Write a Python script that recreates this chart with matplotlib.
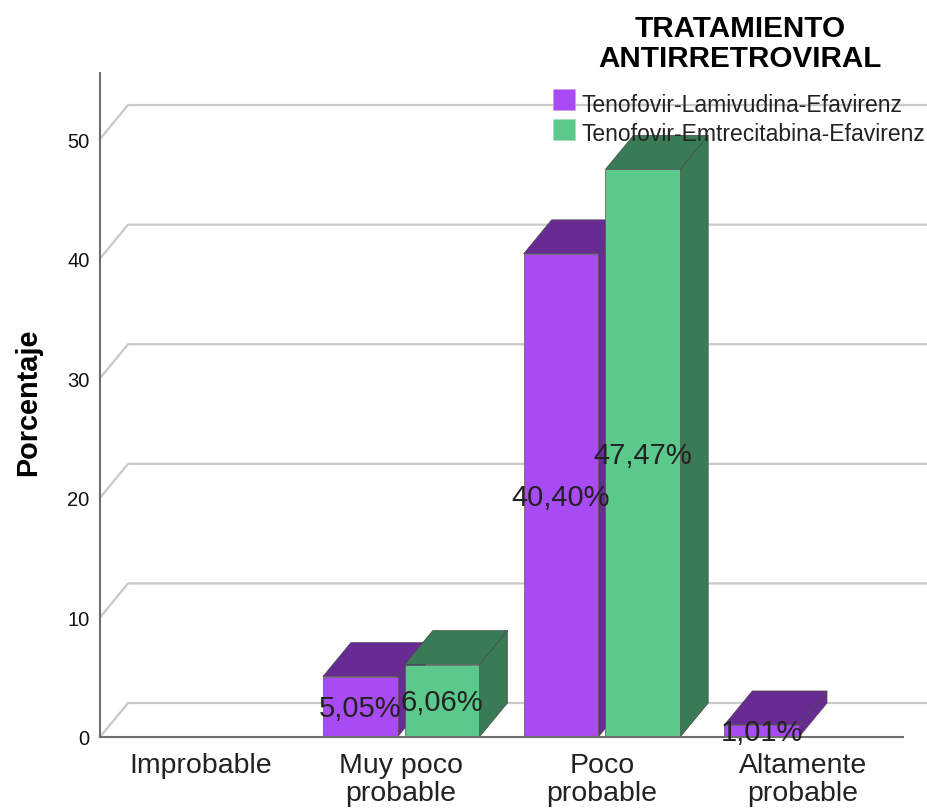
import numpy as np
import matplotlib
matplotlib.use('Agg')
import matplotlib.pyplot as plt
from matplotlib.patches import Rectangle

plt.rcParams['font.family'] = ['Liberation Sans', 'DejaVu Sans']

categorias = ['Improbable', 'Muy poco\nprobable', 'Poco\nprobable', 'Altamente\nprobable']
lamivudina = [0, 5.05, 40.40, 1.01]
emtricitabina = [0, 6.06, 47.47, 0]
etiquetas_lam = ['', '5,05%', '40,40%', '1,01%']
etiquetas_emt = ['', '6,06%', '47,47%', '']
nombres = ['Tenofovir-Lamivudina-Efavirenz', 'Tenofovir-Emtrecitabina-Efavirenz']
y_ticks = [0, 10, 20, 30, 40, 50]

# profundidad del efecto 3D, en unidades de los ejes
DX = 0.1395
DY = 2.84
ANCHO = 0.372
DESP = 0.204


def barra_3d(ax, x, valor, claro, oscuro):
    x0, x1 = x - ANCHO / 2, x + ANCHO / 2
    ax.fill([x1, x1 + DX, x1 + DX, x1], [0, DY, valor + DY, valor],
            fc=oscuro, ec='#4a4a4a', lw=0.5, zorder=3, clip_on=False)
    ax.fill([x0, x0 + DX, x1 + DX, x1], [valor, valor + DY, valor + DY, valor],
            fc=oscuro, ec='#4a4a4a', lw=0.5, zorder=3, clip_on=False)
    ax.bar(x, valor, ANCHO, color=claro, edgecolor='#555555', linewidth=0.5, zorder=3)


def etiqueta(ax, x, valor, texto):
    ax.annotate(texto, (x, valor / 2), xytext=(0, -1), textcoords='offset points',
                ha='center', va='center', fontsize=21, color='#222222', zorder=5,
                annotation_clip=False)


fig = plt.figure(figsize=(9.27, 8.12), dpi=100)
ax = fig.add_axes([100 / 927, 74 / 812, 803 / 927, 664 / 812])
ax.set_xlim(-0.5, 3.5)
ax.set_ylim(0, 55.52)

# rejilla del fondo con su tramo inclinado
for v in y_ticks:
    ax.plot([-0.5, -0.5 + DX, 3.65], [v, v + DY, v + DY], color='#c9c9c9', lw=1.6,
            zorder=1, clip_on=False)

morado, morado_osc = '#a94bf5', '#682a93'
verde, verde_osc = '#5cc98c', '#397b55'
pos = np.arange(len(categorias))

for i in pos:
    if lamivudina[i] > 0:
        barra_3d(ax, i - DESP, lamivudina[i], morado, morado_osc)
        etiqueta(ax, i - DESP, lamivudina[i], etiquetas_lam[i])
    if emtricitabina[i] > 0:
        barra_3d(ax, i + DESP, emtricitabina[i], verde, verde_osc)
        etiqueta(ax, i + DESP, emtricitabina[i], etiquetas_emt[i])

for lado in ['top', 'right']:
    ax.spines[lado].set_visible(False)
for lado in ['left', 'bottom']:
    ax.spines[lado].set_color('#6e6e6e')
    ax.spines[lado].set_linewidth(1.5)
    ax.spines[lado].set_zorder(4)

ax.set_xticks(pos, categorias, fontsize=20.5, color='#222222', linespacing=1.1)
ax.set_yticks(y_ticks)
ax.tick_params(axis='x', length=0, pad=10.5)
ax.tick_params(axis='y', length=0, pad=7.5, labelsize=14.5, labelcolor='#111111')
for t in ax.get_yticklabels():
    t.set_verticalalignment('center_baseline')
ax.set_ylabel('Porcentaje', fontsize=20.8, fontweight='bold', labelpad=18, y=0.505)

fig.text(740 / 927, 1 - 44 / 812, 'TRATAMIENTO\nANTIRRETROVIRAL', ha='center', va='center',
         fontsize=21.3, fontweight='bold', linespacing=1.08, color='#000000')

# leyenda dibujada a mano: el texto queda algo por debajo del cuadro de color
for k, (nombre, color, borde) in enumerate(zip(nombres, [morado, verde], ['#c9a0f0', '#a5e0bd'])):
    fig.add_artist(Rectangle((553 / 927, 1 - (111 + 30 * k) / 812), 22 / 927, 21 / 812, fc=color, ec=borde,
                             lw=0.5, transform=fig.transFigure, zorder=10))
    fig.text(582 / 927, 1 - (105 + 29.5 * k) / 812, nombre, ha='left', va='center', fontsize=16.5,
             color='#222222', zorder=10)

fig.savefig('out.png', dpi=100)
